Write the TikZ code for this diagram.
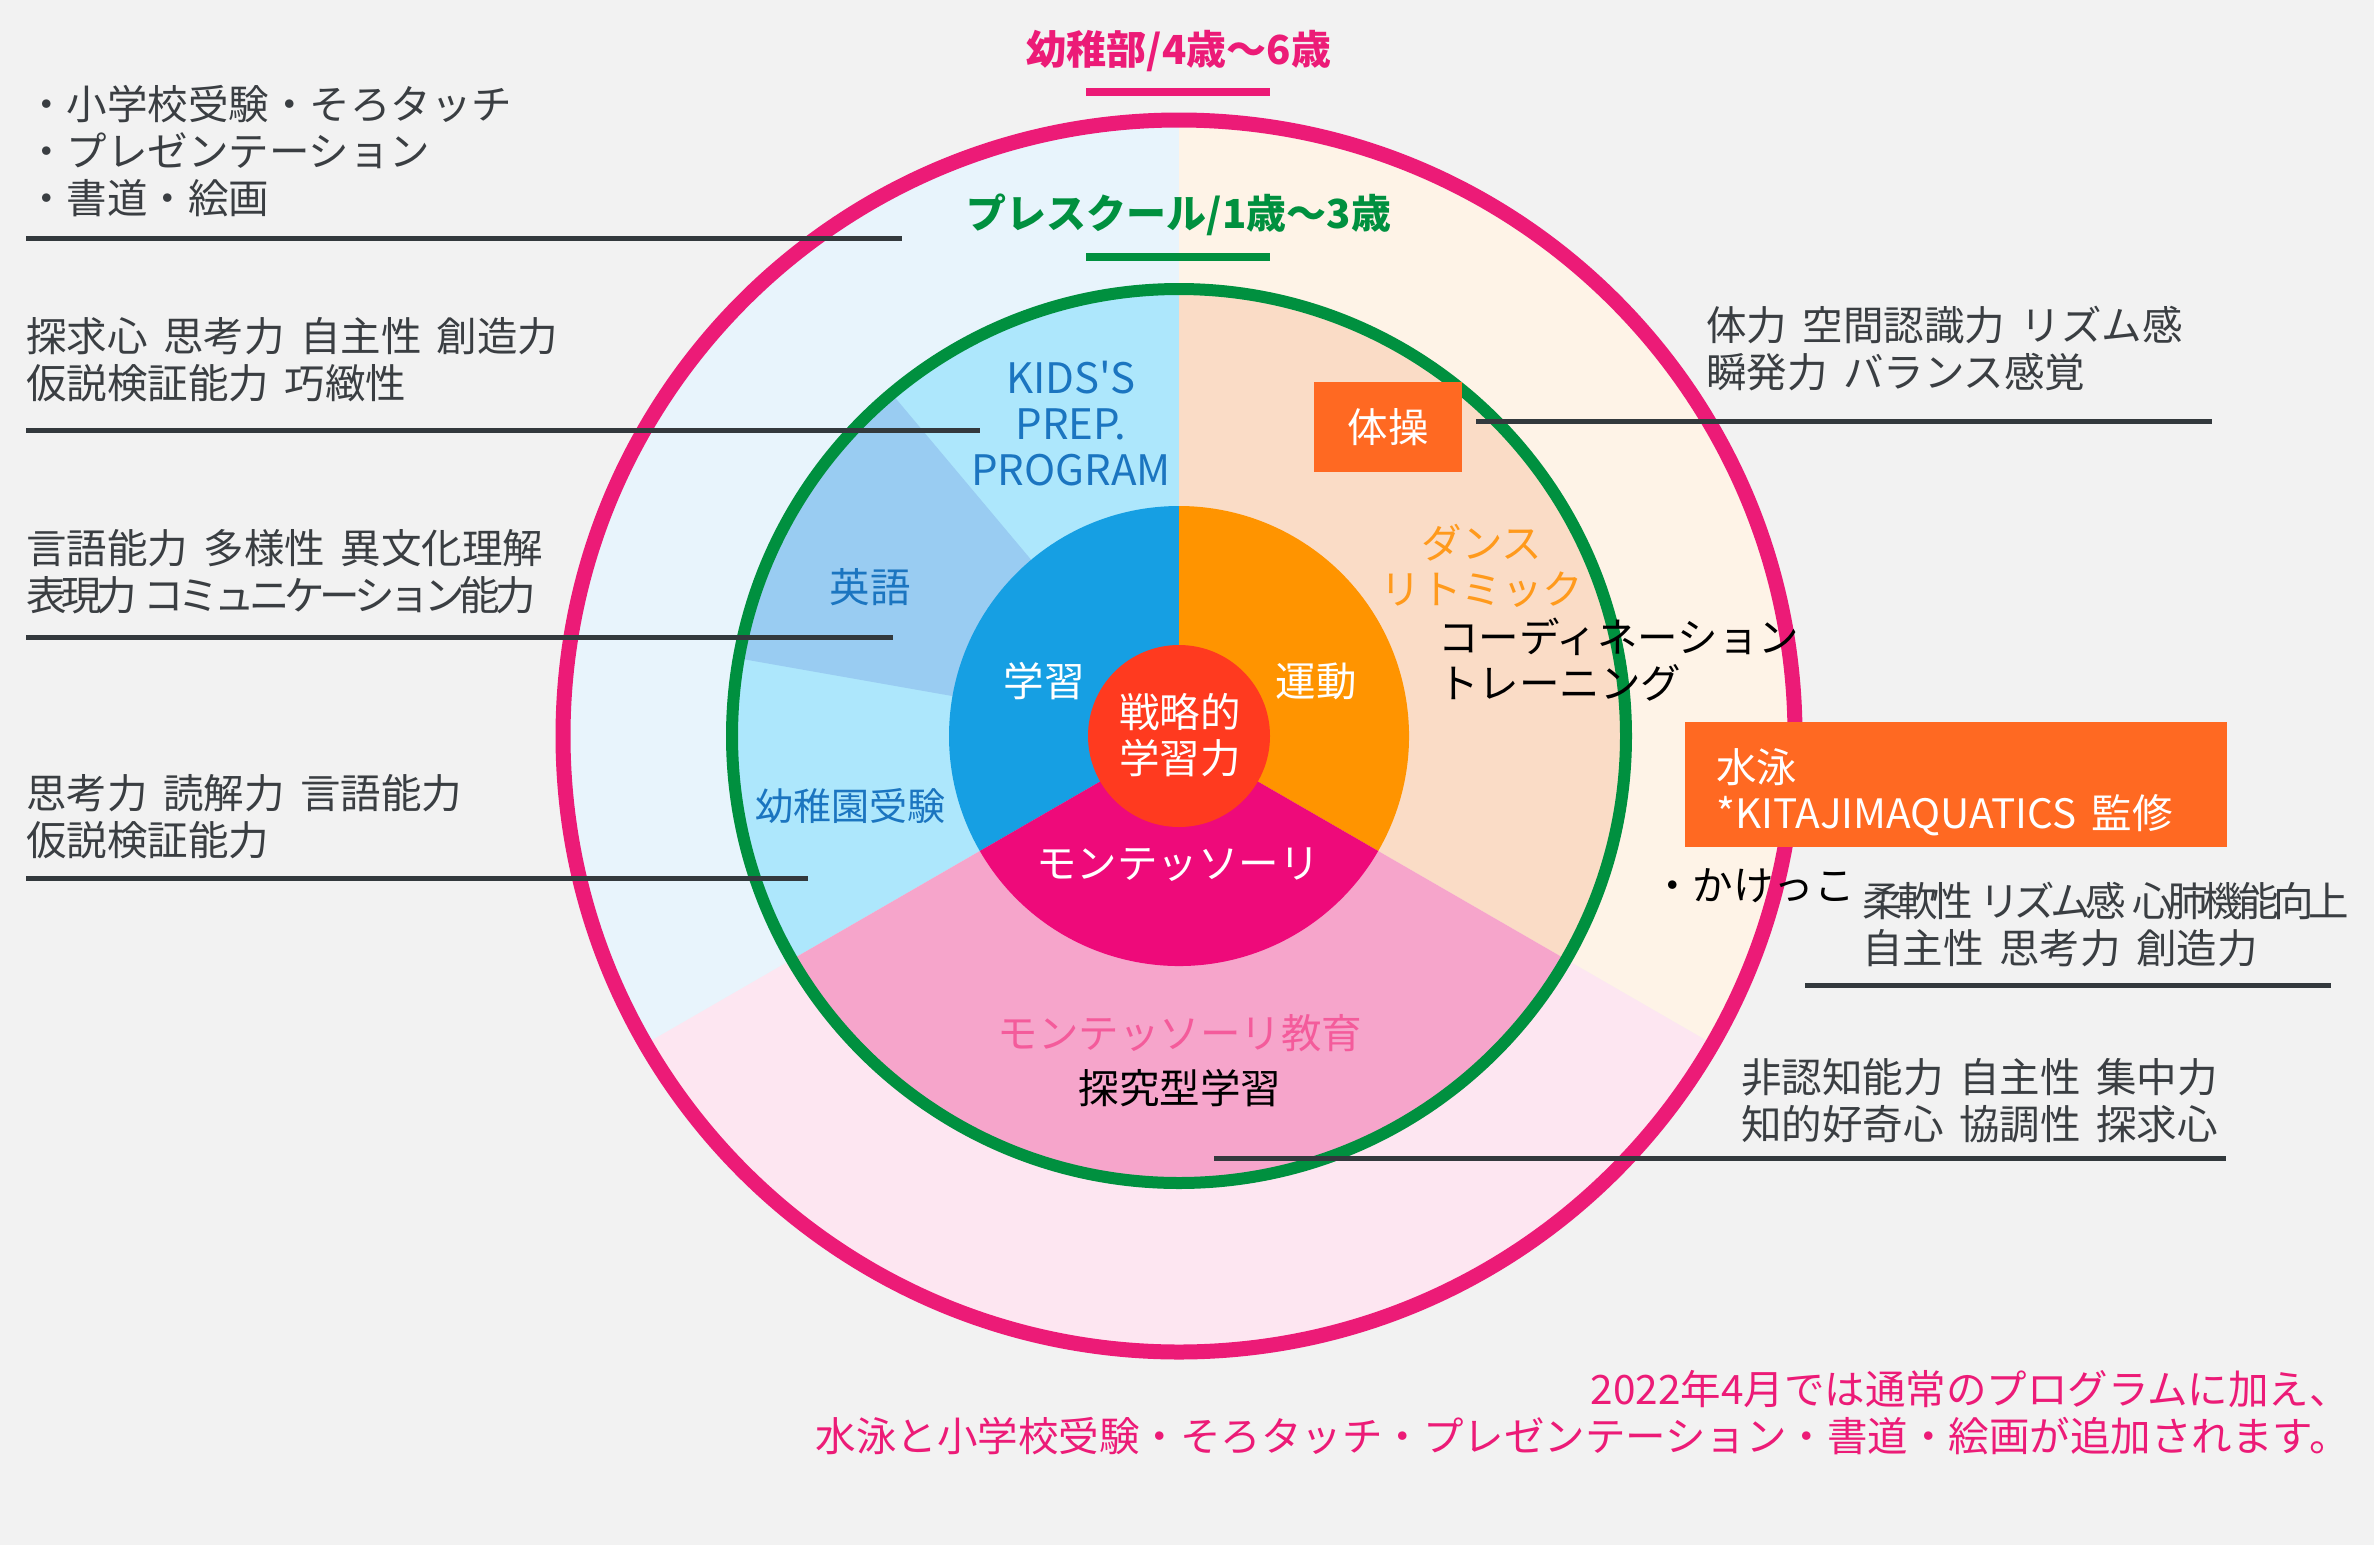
\documentclass[tikz,border=0pt]{standalone}
\usepackage{fontspec}
\setmainfont{Noto Sans CJK JP}[WordSpace=1.7]
\newfontfamily\plainlatin{Noto Sans CJK JP}
\newfontfamily\tightfont{Noto Sans CJK JP}[LetterSpace=-13,WordSpace=1.7]
\definecolor{bggray}{HTML}{F2F2F2}
\definecolor{outerblue}{HTML}{E8F4FC}
\definecolor{outercream}{HTML}{FEF3E7}
\definecolor{outerpink}{HTML}{FDE6F1}
\definecolor{ringcyan}{HTML}{ADE7FC}
\definecolor{ringblue}{HTML}{99CCF2}
\definecolor{ringpeach}{HTML}{FADCC6}
\definecolor{ringpink}{HTML}{F6A5CB}
\definecolor{coreblue}{HTML}{169FE3}
\definecolor{coreorange}{HTML}{FF9400}
\definecolor{coremagenta}{HTML}{EE0A7A}
\definecolor{corered}{HTML}{FF3A1F}
\definecolor{rimpink}{HTML}{EC1B77}
\definecolor{rimgreen}{HTML}{00903F}
\definecolor{boxorange}{HTML}{FF6922}
\definecolor{labelblue}{HTML}{1B75C0}
\definecolor{danceorange}{HTML}{FF9A1C}
\definecolor{montepink}{HTML}{F45B9B}
\definecolor{textgray}{HTML}{3A3E42}
\definecolor{rulegray}{HTML}{33393D}

\begin{document}
\begin{tikzpicture}[x=1pt,y=1pt,
  title/.style={font=\fontsize{40}{48}\selectfont\bfseries, inner sep=0pt},
  txt/.style={font=\fontsize{40.5}{47}\selectfont, text=textgray, inner sep=0pt, align=left, anchor=west},
  lbl/.style={font=\fontsize{40.5}{46}\selectfont, inner sep=0pt},
  box/.style={fill=boxorange, text=white, font=\fontsize{40.5}{46}\selectfont},
  rule/.style={rulegray, line width=5pt},
  bar/.style={line width=8pt}]
  \useasboundingbox (0,0) rectangle (2374,-1545);
  \fill[bggray] (0,0) rectangle (2374,-1545);
  \coordinate (c) at (1179,-736);
  \fill[outerblue] (c) -- ++(90:616) arc[start angle=90, end angle=210, radius=616] -- cycle;
  \fill[outercream] (c) -- ++(-30:616) arc[start angle=-30, end angle=90, radius=616] -- cycle;
  \fill[outerpink] (c) -- ++(210:616) arc[start angle=210, end angle=330, radius=616] -- cycle;
  \fill[ringcyan] (c) -- ++(90:447) arc[start angle=90, end angle=210, radius=447] -- cycle;
  \fill[ringblue] (c) -- ++(130:447) arc[start angle=130, end angle=170, radius=447] -- cycle;
  \fill[ringpeach] (c) -- ++(-30:447) arc[start angle=-30, end angle=90, radius=447] -- cycle;
  \fill[ringpink] (c) -- ++(210:447) arc[start angle=210, end angle=330, radius=447] -- cycle;
  \fill[coreblue] (c) -- ++(90:230) arc[start angle=90, end angle=210, radius=230] -- cycle;
  \fill[coreorange] (c) -- ++(-30:230) arc[start angle=-30, end angle=90, radius=230] -- cycle;
  \fill[coremagenta] (c) -- ++(210:230) arc[start angle=210, end angle=330, radius=230] -- cycle;
  \fill[corered] (c) circle[radius=91];
  \draw[rimgreen, line width=12pt] (c) circle[radius=447];
  \draw[rimpink, line width=15pt] (c) circle[radius=616];

  \node[title, text=rimpink] (kinder) at (1179,-51) {幼稚部/4歳〜6歳};
  \draw[bar, rimpink] (1086,-92) -- (1270,-92);
  \node[title, text=rimgreen] (preschool) at (1179,-215) {プレスクール/1歳〜3歳};
  \draw[bar, rimgreen] (1086,-257) -- (1270,-257);

  \draw[rule] (26,-238) -- (902,-238);
  \draw[rule] (26,-430) -- (980,-430);
  \draw[rule] (26,-637) -- (893,-637);
  \draw[rule] (26,-878) -- (808,-878);
  \draw[rule] (1476,-421) -- (2212,-421);
  \draw[rule] (1805,-985) -- (2331,-985);
  \draw[rule] (1214,-1158) -- (2226,-1158);

  \node[txt] (exams) at (26,-151) {・小学校受験・そろタッチ\\・プレゼンテーション\\・書道・絵画};
  \node[txt] (prepskills) at (26,-359.5) {探求心 思考力 自主性 創造力\\仮説検証能力 巧緻性};
  \node[txt] (engskills) at (26,-571.5) {言語能力 多様性 異文化理解\\{\tightfont 表現力 コミュニケーション能力}};
  \node[txt] (examskills) at (26,-816.5) {思考力 読解力 言語能力\\仮説検証能力};
  \node[txt] (gymskills) at (1706,-349) {体力 空間認識力 リズム感\\瞬発力 バランス感覚};
  \node[box, minimum width=542pt, minimum height=125pt, anchor=north west] (swim) at (1685,-722) {};
  \node[box, fill=none, inner sep=0pt, align=left, anchor=west] (swimtext) at ([xshift=31pt,yshift=-8pt]swim.west) {水泳\\{*}KITAJIMAQUATICS 監修};
  \node[txt, text=black] (run) at (1652,-886) {・かけっこ};
  \node[txt] (runskills) at (1862,-924) {{\tightfont 柔軟性 リズム感 心肺機能向上}\\自主性 思考力 創造力};
  \node[txt] (monteskills) at (1741,-1101) {非認知能力 自主性 集中力\\知的好奇心 協調性 探求心};
  \node[txt, text=rimpink, anchor=east, align=right] (note) at (2350,-1413) {2022年4月では通常のプログラムに加え、\\水泳と小学校受験・そろタッチ・プレゼンテーション・書道・絵画が追加されます。};

  \node[lbl, text=labelblue, align=center, font=\fontsize{42}{46}\selectfont\plainlatin] (kpp) at (1071,-424) {KIDS'S\\PREP.\\PROGRAM};
  \node[lbl, text=labelblue] (eng) at (870,-587) {英語};
  \node[lbl, text=labelblue, font=\fontsize{38}{46}\selectfont] (kgexam) at (850,-806) {幼稚園受験};
  \node[lbl, text=white] (study) at (1044,-681) {学習};
  \node[lbl, text=white] (sport) at (1316,-681) {運動};
  \node[lbl, text=white, align=center] (core) at (1180,-735) {戦略的\\学習力};
  \node[lbl, text=white] (monte) at (1178,-865) {モンテッソーリ};
  \node[box, minimum width=148pt, minimum height=90pt] (gym) at (1388,-427) {体操};
  \node[lbl, text=danceorange, align=center] (dance) at (1482,-566) {ダンス\\リトミック};
  \node[lbl, text=black, align=left, anchor=west] (coord) at (1438,-660) {コーディネーション\\トレーニング};
  \node[lbl, text=montepink] (monteedu) at (1180,-1033) {モンテッソーリ教育};
  \node[lbl, text=black] (inquiry) at (1180,-1088) {探究型学習};
\end{tikzpicture}
\end{document}
